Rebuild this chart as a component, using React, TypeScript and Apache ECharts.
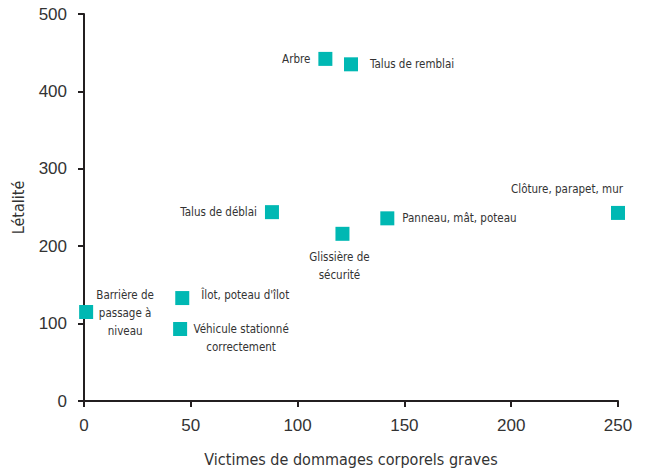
import React, { useEffect, useRef } from "react";
import * as echarts from "echarts";

const names = [
  "Arbre",
  "Talus de remblai",
  "Talus de déblai",
  "Glissière de\nsécurité",
  "Panneau, mât, poteau",
  "Clôture, parapet, mur",
  "Barrière de\npassage à\nniveau",
  "Îlot, poteau d'îlot",
  "Véhicule stationné\ncorrectement",
];
const victimes = [113, 125, 88, 121, 142, 250, 1, 46, 45];
const letalite = [442, 435, 244, 216, 236, 243, 115, 133, 93];

const labelFont = "'DejaVu Sans Condensed', 'Liberation Sans Narrow', sans-serif";

const labelCfg: any[] = [
  { position: "left", distance: 8 },
  { position: "right", distance: 12 },
  { position: "left", distance: 8 },
  { position: "bottom", distance: 7, align: "center", offset: [-3, 0] },
  { position: "right", distance: 8 },
  { position: "top", distance: 8, offset: [-51, 0] },
  { position: "right", distance: 6, align: "center", offset: [26, 1] },
  { position: "right", distance: 12, offset: [0, -3] },
  { position: "right", distance: 8, align: "center", offset: [46, 9] },
];

export default function App() {
  const ref = useRef<HTMLDivElement>(null);
  useEffect(() => {
    const chart = echarts.init(ref.current!, null, { renderer: "svg" });
    const data = names.map((n, i) => {
      const c = labelCfg[i];
      return {
        name: n,
        value: [victimes[i], letalite[i]],
        label: {
          show: true,
          formatter: n,
          position: c.position,
          distance: c.distance,
          offset: c.offset || [0, 0],
          align: c.align,
          color: "#333",
          fontSize: 11.5,
          lineHeight: 18,
          fontFamily: labelFont,
        },
      };
    });
    chart.setOption({
      animation: false,
      grid: { left: 84, right: 32, top: 14, bottom: 71, containLabel: false },
      xAxis: {
        type: "value",
        min: 0,
        max: 250,
        interval: 50,
        name: "Victimes de dommages corporels graves",
        nameLocation: "middle",
        nameGap: 50,
        nameTextStyle: { fontSize: 16, color: "#333", fontFamily: labelFont },
        axisLine: { show: true, lineStyle: { color: "#231f20", width: 2 } },
        axisTick: { show: true, length: 6, lineStyle: { color: "#231f20", width: 2 } },
        axisLabel: { fontSize: 17, color: "#333", margin: 16, fontFamily: "'Liberation Sans', Arial, sans-serif" },
        splitLine: { show: false },
      },
      yAxis: {
        type: "value",
        min: 0,
        max: 500,
        interval: 100,
        name: "Létalité",
        nameLocation: "middle",
        nameGap: 58,
        nameRotate: 90,
        nameTextStyle: { fontSize: 16, color: "#333", fontFamily: labelFont },
        axisLine: { show: true, lineStyle: { color: "#231f20", width: 2 } },
        axisTick: { show: true, length: 6, lineStyle: { color: "#231f20", width: 2 } },
        axisLabel: { fontSize: 17, color: "#333", margin: 17, fontFamily: "'Liberation Sans', Arial, sans-serif" },
        splitLine: { show: false },
      },
      series: [
        {
          type: "scatter",
          symbol: "rect",
          symbolSize: 14,
          itemStyle: { color: "#00b8b3", opacity: 1 },
          data,
        },
      ],
    });
    return () => chart.dispose();
  }, []);
  return <div ref={ref} style={{ width: 650, height: 472, position: "absolute", left: 0, top: 0 }} />;
}
